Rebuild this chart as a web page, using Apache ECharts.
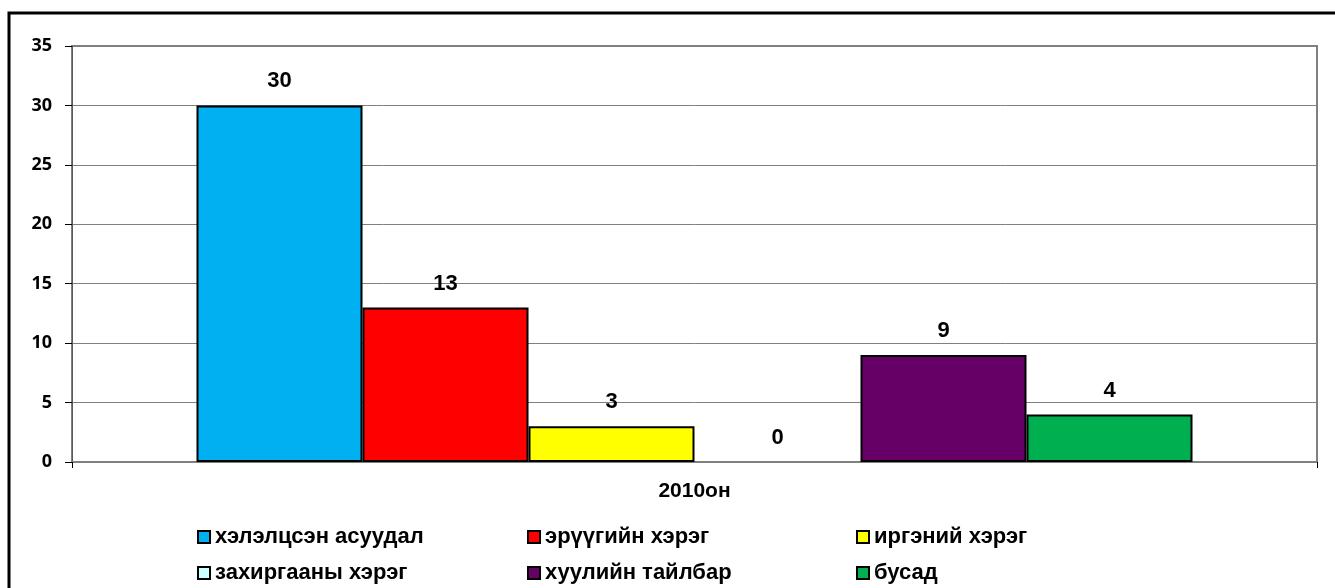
<!DOCTYPE html>
<html>
<head>
<meta charset="utf-8">
<script src="https://cdn.jsdelivr.net/npm/echarts@6/dist/echarts.min.js"></script>
<style>
html,body{margin:0;padding:0;background:#fff;}
#chart{width:1335px;height:588px;}
</style>
</head>
<body>
<div id="chart"></div>
<script>
const categories = ['2010он'];
const seriesNames = ['хэлэлцсэн асуудал','эрүүгийн хэрэг','иргэний хэрэг','захиргааны хэрэг','хуулийн тайлбар','бусад'];
const seriesValues = [30, 13, 3, 0, 9, 4];
const seriesColors = ['#00B0F0','#FF0000','#FFFF00','#CCFFFF','#660066','#00B050'];
const yTicks = {min: 0, max: 35, interval: 5};

const chart = echarts.init(document.getElementById('chart'));
const series = seriesNames.map((name, i) => ({
  name: name,
  type: 'bar',
  data: [{value: seriesValues[i], itemStyle: seriesValues[i] === 0 ? {borderWidth: 0} : {}}],
  barGap: '0%',
  barCategoryGap: '20%',
  itemStyle: {color: seriesColors[i], borderColor: '#000', borderWidth: 2},
  label: {
    show: true, position: 'top', distance: 13,
    color: '#000', fontFamily: 'Liberation Sans', fontWeight: 'bold', fontSize: 22
  },
  animation: false
}));

const legendCols = [192, 522, 851];
const legendRows = [521, 557];
const legendTextStyle = {
  fontFamily: 'Liberation Sans', fontWeight: 'bold', fontSize: 22, color: '#000'
};
const legends = seriesNames.map((name, i) => ({
  data: [name],
  left: legendCols[i % 3], top: legendRows[Math.floor(i / 3)],
  orient: 'horizontal',
  itemWidth: 12, itemHeight: 12, itemTextGap: 4,
  icon: 'rect',
  selectedMode: false,
  itemStyle: {borderColor: '#000', borderWidth: 2},
  textStyle: legendTextStyle
}));

chart.setOption({
  animation: false,
  backgroundColor: '#fff',
  graphic: [{
    type: 'rect', left: 6.5, top: 10.5,
    shape: {width: 1400, height: 700},
    style: {fill: 'none', stroke: '#000', lineWidth: 3}
  }],
  grid: {
    left: 72, right: 18, top: 46, bottom: 126,
    show: true, borderColor: '#808080', borderWidth: 2, backgroundColor: 'transparent'
  },
  legend: legends,
  xAxis: {
    type: 'category',
    data: categories,
    axisLine: {show: true, lineStyle: {color: '#808080', width: 2}},
    axisTick: {show: true, length: 6, lineStyle: {color: '#000', width: 1}},
    axisLabel: {
      margin: 19, color: '#000', fontFamily: 'Liberation Sans',
      fontWeight: 'bold', fontSize: 21
    }
  },
  yAxis: {
    type: 'value',
    min: yTicks.min, max: yTicks.max, interval: yTicks.interval,
    axisLine: {show: true, lineStyle: {color: '#595959', width: 1}},
    axisTick: {show: true, length: 7, lineStyle: {color: '#000'}},
    splitLine: {show: true, lineStyle: {color: '#808080', width: 1}},
    axisLabel: {
      margin: 20, color: '#000', fontFamily: 'Open Sans',
      fontWeight: 'bold', fontSize: 18
    }
  },
  series: series
});
</script>
</body>
</html>
